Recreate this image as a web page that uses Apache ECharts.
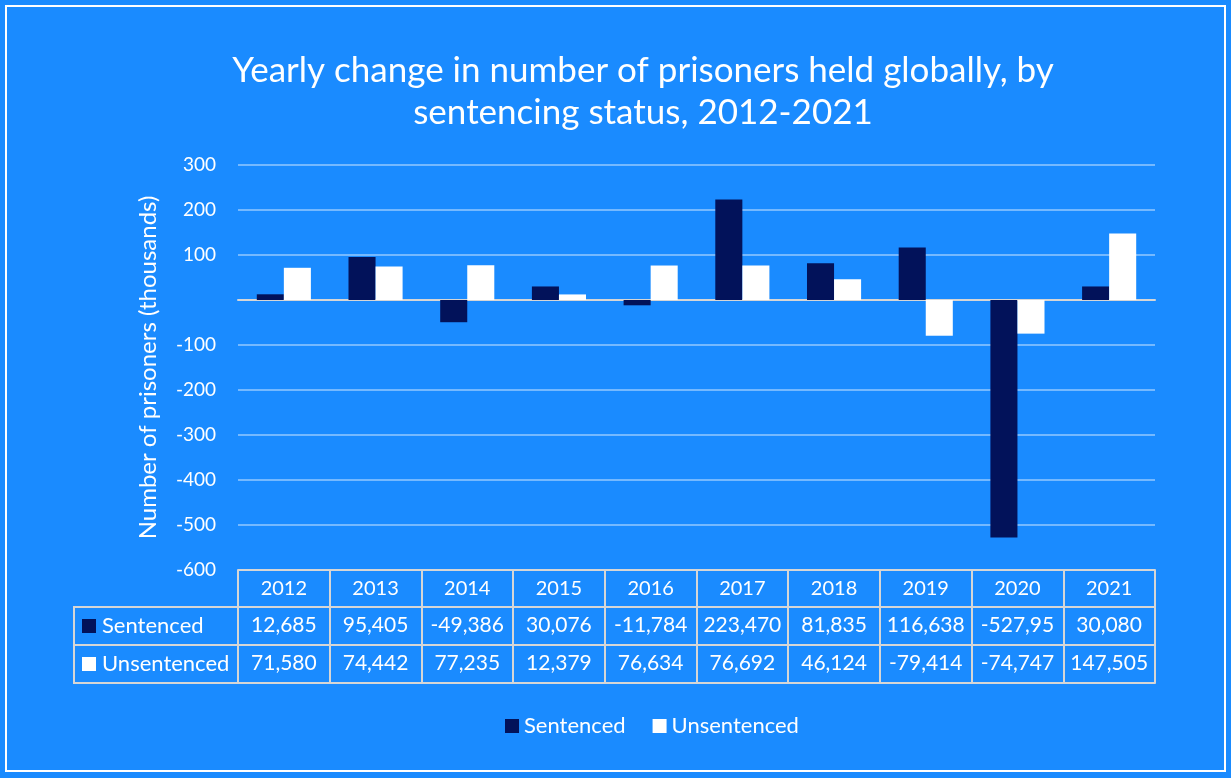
<!doctype html>
<html>
<head>
  <meta charset="utf-8">
  <title>index</title>
  <script src="https://cdn.jsdelivr.net/npm/echarts@6/dist/echarts.min.js"></script>
  <style>
    html, body { margin: 0; padding: 0; background: #1a8bff; }
    #main { width: 1231px; height: 778px; }
  </style>
</head>
<body>
<div id="main"></div>
<script>
  // data (thousands)
  var years = ['2012', '2013', '2014', '2015', '2016', '2017', '2018', '2019', '2020', '2021'];
  var sentenced = [12.685, 95.405, -49.386, 30.076, -11.784, 223.47, 81.835, 116.638, -527.95, 30.08];
  var unsentenced = [71.58, 74.442, 77.235, 12.379, 76.634, 76.692, 46.124, -79.414, -74.747, 147.505];
  // text shown in the data table
  var sentencedText = ['12,685', '95,405', '-49,386', '30,076', '-11,784', '223,470', '81,835', '116,638', '-527,95', '30,080'];
  var unsentencedText = ['71,580', '74,442', '77,235', '12,379', '76,634', '76,692', '46,124', '-79,414', '-74,747', '147,505'];

  var FONT = 'Lato, "Open Sans", sans-serif';
  var navy = '#02125a';
  var tableLine = '#d6d6d6';

  function tableAxis(data, offset, showLabel) {
    return {
      type: 'category',
      data: data,
      position: 'bottom',
      offset: offset,
      gridIndex: 0,
      axisLine: { show: true, onZero: false, lineStyle: { color: tableLine, width: 2 } },
      axisTick: { show: false },
      axisLabel: { show: showLabel, interval: 0, color: '#fff', fontSize: 21, fontFamily: FONT, margin: 8 },
      splitLine: { show: false }
    };
  }

  var chart = echarts.init(document.getElementById('main'));
  var option = {
    backgroundColor: '#1a8bff',
    animation: false,
    grid: { left: 238, right: 76, top: 165, bottom: 208 },
    legend: {
      bottom: 36,
      left: 500,
      itemWidth: 14,
      itemHeight: 14,
      itemGap: 27,
      icon: 'rect',
      textStyle: { color: '#fff', fontSize: 22, fontFamily: FONT },
      data: ['Sentenced', 'Unsentenced']
    },
    xAxis: [
      {
        type: 'category',
        data: years,
        position: 'bottom',
        axisLine: { show: true, onZero: true, lineStyle: { color: tableLine, width: 2 } },
        axisTick: { show: false },
        axisLabel: { show: false }
      },
      {
        type: 'category',
        data: years,
        position: 'bottom',
        offset: 0,
        axisLine: { show: true, onZero: false, lineStyle: { color: tableLine, width: 2 } },
        axisTick: { show: true, length: 113, lineStyle: { color: tableLine, width: 2 } },
        axisLabel: { interval: 0, color: '#fff', fontSize: 20, fontFamily: FONT, margin: 9 }
      },
      tableAxis(sentencedText, 37, true),
      tableAxis(unsentencedText, 75, true),
      tableAxis(years, 113, false)
    ],
    yAxis: {
      type: 'value',
      min: -600,
      max: 300,
      interval: 100,
      name: 'Number of prisoners (thousands)',
      nameLocation: 'middle',
      nameGap: 78,
      nameTextStyle: { color: '#fff', fontSize: 24, fontFamily: FONT },
      axisLine: { show: false },
      axisTick: { show: false },
      axisLabel: {
        color: '#fff', fontSize: 19, fontFamily: FONT, margin: 22,
        formatter: function (v) { return v === 0 ? '' : v; }
      },
      splitLine: { lineStyle: { color: 'rgba(255,255,255,0.4)', width: 2 } }
    },
    series: [
      {
        name: 'Sentenced',
        type: 'bar',
        data: sentenced,
        itemStyle: { color: navy },
        barGap: '0%',
        barCategoryGap: '41%'
      },
      {
        name: 'Unsentenced',
        type: 'bar',
        data: unsentenced,
        itemStyle: { color: '#ffffff' }
      }
    ],
    graphic: [
      {
        type: 'rect', z: -1,
        shape: { x: 6, y: 6, width: 1219, height: 765 },
        style: { fill: null, stroke: '#fff', lineWidth: 2 }
      },
      {
        type: 'text', x: 643, y: 50,
        style: {
          text: 'Yearly change in number of prisoners held globally, by\nsentencing status, 2012-2021',
          textAlign: 'center', fill: '#fff', fontSize: 35, fontFamily: FONT, lineHeight: 42
        }
      },
      // left column of the data table
      {
        type: 'rect',
        shape: { x: 74, y: 607, width: 164, height: 76 },
        style: { fill: null, stroke: tableLine, lineWidth: 2 }
      },
      {
        type: 'line',
        shape: { x1: 74, y1: 645, x2: 238, y2: 645 },
        style: { stroke: tableLine, lineWidth: 2 }
      },
      { type: 'rect', shape: { x: 82, y: 619, width: 14, height: 14 }, style: { fill: navy } },
      { type: 'rect', shape: { x: 82, y: 657, width: 14, height: 14 }, style: { fill: '#fff' } },
      {
        type: 'text', x: 102, y: 626,
        style: { text: 'Sentenced', fill: '#fff', fontSize: 22, fontFamily: FONT, verticalAlign: 'middle' }
      },
      {
        type: 'text', x: 102, y: 664,
        style: { text: 'Unsentenced', fill: '#fff', fontSize: 22, fontFamily: FONT, verticalAlign: 'middle' }
      }
    ]
  };
  chart.setOption(option);
</script>
</body>
</html>
